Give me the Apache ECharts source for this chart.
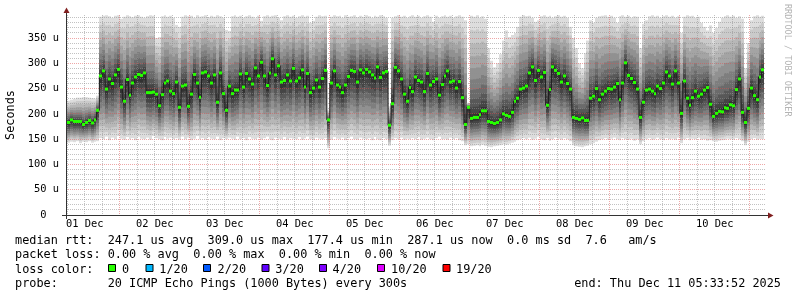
<!DOCTYPE html>
<html><head><meta charset="utf-8">
<script src="https://cdn.jsdelivr.net/npm/echarts@6/dist/echarts.min.js"></script>
<style>html,body{margin:0;padding:0;background:#fff}#c{width:797px;height:297px}</style>
</head><body><div id="c"></div>
<script>
// ---- data (hours counted from 01 Dec 00:00) ----
const startHour = 6;            // first hourly sample
const axisStartHour = 5.565;    // Dec 1 05:33:52
const axisEndHour = 245.565;    // Dec 11 05:33:52
const dayLabels = ['01 Dec','02 Dec','03 Dec','04 Dec','05 Dec','06 Dec','07 Dec','08 Dec','09 Dec','10 Dec'];
const dayLabelHours = [12,36,60,84,108,132,156,180,204,228];
const yTickValues = [0,50,100,150,200,250,300,350];
const yMax = 395.5;

// median rtt per hour (microseconds)
const median = [
183,188,185,185,185,179,183,187,182,188,
207,275,285,249,269,260,277,288,253,225,
268,237,261,273,278,276,281,242,242,243,
239,216,238,261,265,245,240,
263,213,255,257,215,239,278,261,233,281,
283,275,261,277,223,281,240,207,255,240,
247,247,279,253,280,269,259,291,275,302,
275,256,281,309,277,295,263,266,277,265,
290,265,271,287,253,280,242,251,267,253,
270,286,188,261,285,257,253,242,257,274,
286,284,263,287,281,288,283,277,271,293,
272,281,284,177.4,220,292,285,269,239,
225,252,244,273,266,263,244,280,257,264,
269,237,258,275,285,263,265,251,264,232,
179,213,191,193,193,198,206,206,185,183,
181,183,188,200,197,195,203,225,231,249,
251,255,281,293,266,286,273,282,217,248,
293,286,280,263,275,260,249,193,191,189,
192,187,187,231,235,250,228,239,245,250,
249,253,260,228,261,301,276,270,262,249,
193,223,247,249,245,240,255,250,261,283,
275,259,285,261,201,265,231,217,232,245,
235,239,247,252,219,195,201,205,204,212,
211,218,216,248,269,203,183,211,251,236,
228,273,287.1
];
// highest ping per hour
const hi = [
226,228,230,232,232,233,233,232,231,230,
236,392,394,395,393,390,394,395,388,392,
395,393,391,394,395,392,390,393,395,394,
350,352,393,395,392,394,390,
376,372,392,395,393,394,390,395,392,393,
395,391,394,392,395,393,390,366,364,393,
395,392,394,390,393,395,392,389,394,384,
393,395,392,394,395,390,385,393,395,392,
394,390,393,395,392,394,380,384,392,395,
393,394,208,392,395,393,394,390,395,392,
393,395,391,394,392,395,393,390,394,392,
395,393,390,215,390,393,395,392,394,
390,393,395,392,394,390,393,395,392,382,
394,390,393,395,392,394,390,393,395,392,
385,222,394,392,395,390,393,388,330,305,
292,300,318,345,365,352,356,360,372,392,
395,393,394,390,382,385,393,395,392,394,
390,393,395,392,394,390,372,350,330,300,
290,320,345,385,380,390,393,394,395,392,
394,390,380,393,395,392,394,390,393,392,
330,378,385,393,395,392,394,390,393,395,
392,394,390,393,360,392,395,393,394,390,
392,380,372,365,375,360,370,382,390,393,
395,392,394,390,393,388,290,340,385,393,
395,392,394
];
// lowest ping per hour
const lo = [
143,145,144,146,142,145,144,146,143,145,
146,152,150,155,148,153,150,156,151,149,
154,150,152,148,155,151,150,153,149,156,
152,150,148,154,151,153,150,
152,149,155,150,153,148,151,156,150,152,
149,154,151,150,155,148,152,150,153,151,
149,155,150,152,148,154,151,150,153,149,
152,155,150,148,153,151,150,154,149,152,
151,150,154,149,152,155,150,148,153,151,
150,152,132,149,154,151,150,153,148,152,
155,150,149,153,151,150,152,148,154,150,
148,152,150,137,148,152,150,153,149,
151,150,152,150,154,149,151,153,150,148,
152,155,150,151,149,153,150,152,148,146,
138,140,136,137,138,136,139,137,135,134,
136,137,138,140,139,141,143,145,148,150,
152,150,153,149,151,155,150,148,152,147,
150,153,151,149,152,150,146,138,136,135,
134,136,137,140,142,145,148,150,152,149,
151,153,150,148,152,150,149,151,147,150,
140,146,150,152,149,151,153,150,148,152,
150,151,149,153,142,150,152,148,151,150,
153,149,150,147,148,146,145,147,148,149,
151,150,149,152,150,146,138,145,150,152,
149,151,150
];
const lossLegend = [['0','#26ff00'],['1/20','#00b8ff'],['2/20','#0059ff'],['3/20','#5e00ff'],['4/20','#7e00ff'],['10/20','#dd00ff'],['19/20','#ff0000']];
const statLines = [
  'median rtt:  247.1 us avg  309.0 us max  177.4 us min  287.1 us now  0.0 ms sd  7.6   am/s',
  'packet loss: 0.00 % avg  0.00 % max  0.00 % min  0.00 % now',
  'loss color:',
  'probe:       20 ICMP Echo Pings (1000 Bytes) every 300s'
];
const endText = 'end: Thu Dec 11 05:33:52 2025';

// ---- styling ----
const MONO = '"DejaVu Sans Mono", "Liberation Mono", monospace';
const FS = 11.85;      // legend font
const FS_AXIS = 10.4;  // axis label font
const G = {left: 66, top: 15, width: 700, height: 200};
const GAMMA_UP = 1.4, GAMMA_LOW = 0.95;

const chart = echarts.init(document.getElementById('c'), null, {renderer: 'canvas'});

const seriesData = median.map((m, i) => [startHour + i, m]);

function smokeItem(params, api) {
  const i = params.dataIndex;
  const t = api.value(0);
  const m = median[i], h = hi[i], l = lo[i];
  const xa = Math.round(api.coord([t, 0])[0]);
  const xb = Math.round(api.coord([t + 1, 0])[0]);
  const children = [];
  for (let k = 1; k <= 10; k++) {
    const p = (11 - k) / 10;
    const top = m + (h - m) * Math.pow(p, GAMMA_UP);
    const bot = m - (m - l) * Math.pow(p, GAMMA_LOW);
    const yt = api.coord([t, top])[1];
    const yb = api.coord([t, bot])[1];
    const g = Math.round(190 / 10 * (10 - k)) + 50;
    children.push({type: 'rect', shape: {x: xa, y: yt, width: xb - xa, height: yb - yt},
      style: {fill: 'rgb(' + g + ',' + g + ',' + g + ')'}});
  }
  return {type: 'group', children};
}

function squareItem(params, api) {
  const t = api.value(0), m = api.value(1);
  const xa = Math.round(api.coord([t, 0])[0]);
  const xb = Math.round(api.coord([t + 1, 0])[0]);
  const y = api.coord([t, m])[1];
  return {type: 'rect', shape: {x: xa, y: y - 1.5, width: xb - xa, height: 3}, style: {fill: lossLegend[0][1]}};
}

// grid lines: [x, y, major, vertical]
const gridData = [];
for (let v = 10; v < yMax; v += 10) gridData.push([axisStartHour, v, v % 50 === 0 ? 1 : 0, 0]);
for (let h = 6; h < axisEndHour; h += 6) if (h > axisStartHour) gridData.push([h, 0, h % 24 === 0 ? 1 : 0, 1]);

function gridItem(params, api) {
  const cs = params.coordSys;
  const major = api.value(2), vert = api.value(3);
  const style = {stroke: major ? 'rgba(222,79,79,0.5)' : 'rgba(143,143,143,0.55)', lineWidth: 1, lineDash: [1, 1], fill: null};
  if (vert) {
    const x = Math.floor(api.coord([api.value(0), 0])[0]) + 0.5;
    return {type: 'line', shape: {x1: x, y1: cs.y, x2: x, y2: cs.y + cs.height}, style};
  }
  const y = Math.floor(api.coord([api.value(0), api.value(1)])[1]) + 0.5;
  return {type: 'line', shape: {x1: cs.x, y1: y, x2: cs.x + cs.width, y2: y}, style};
}

const graphic = [];
const ARROW = 'rgb(128,31,31)', AXIS = '#333';
// axis extensions and arrows
graphic.push({type: 'line', shape: {x1: 62, y1: 215.5, x2: 768, y2: 215.5}, style: {stroke: AXIS, lineWidth: 1}, z: 10});
graphic.push({type: 'line', shape: {x1: 66.5, y1: 219, x2: 66.5, y2: 13}, style: {stroke: AXIS, lineWidth: 1}, z: 10});
graphic.push({type: 'polygon', shape: {points: [[768, 212.5], [773.5, 215.5], [768, 218.5]]}, style: {fill: ARROW}, z: 11});
graphic.push({type: 'polygon', shape: {points: [[63.5, 13], [66.5, 7.5], [69.5, 13]]}, style: {fill: ARROW}, z: 11});
// statistics text
const lineY = [241.3, 255.4, 269.5, 283.6];
statLines.forEach((s, k) => {
  graphic.push({type: 'text', x: 15, y: lineY[k], style: {text: s, font: FS + 'px ' + MONO, fill: '#000', verticalAlign: 'middle', align: 'left'}});
});
graphic.push({type: 'text', x: 781, y: lineY[3], style: {text: endText, font: FS + 'px ' + MONO, fill: '#000', verticalAlign: 'middle', align: 'right'}});
// loss colour legend
const boxX = [108.5, 146, 203.5, 262, 319.5, 377.5, 443];
const boxTextX = [122, 159.3, 217.6, 275.3, 332.6, 391, 456];
lossLegend.forEach((d, k) => {
  graphic.push({type: 'rect', shape: {x: boxX[k], y: 264.5, width: 7, height: 7}, style: {fill: d[1], stroke: '#000', lineWidth: 1}});
  graphic.push({type: 'text', x: boxTextX[k], y: lineY[2], style: {text: d[0], font: FS + 'px ' + MONO, fill: '#000', verticalAlign: 'middle', align: 'left'}});
});
// watermark
graphic.push({type: 'text', x: 787.5, y: 4, rotation: -Math.PI / 2,
  style: {text: 'RRDTOOL / TOBI OETIKER', font: '8.5px ' + MONO, fill: '#b4b4b4', verticalAlign: 'middle', align: 'left'}});

const option = {
  animation: false,
  backgroundColor: '#fff',
  grid: Object.assign({outerBoundsMode: 'none'}, G),
  xAxis: {
    type: 'value', min: axisStartHour, max: axisEndHour, z: 5,
    axisLine: {show: true, lineStyle: {color: AXIS, width: 1}},
    axisTick: {show: false},
    splitLine: {show: false},
    axisLabel: {
      customValues: dayLabelHours,
      formatter: v => dayLabels[dayLabelHours.indexOf(Math.round(v))] || '',
      fontFamily: MONO, fontSize: FS_AXIS, color: '#000', margin: 4
    }
  },
  yAxis: {
    type: 'value', min: 0, max: yMax, interval: 50, z: 5,
    axisLine: {show: true, lineStyle: {color: AXIS, width: 1}},
    axisTick: {show: false},
    splitLine: {show: false},
    axisLabel: {
      formatter: v => (v === 0 ? '0  ' : v + ' u'),
      showMaxLabel: false,
      fontFamily: MONO, fontSize: FS_AXIS, color: '#000', margin: 7
    },
    name: 'Seconds', nameLocation: 'middle', nameGap: 49, nameRotate: 90,
    nameTextStyle: {fontFamily: MONO, fontSize: FS, color: '#000'}
  },
  series: [
    {type: 'custom', name: 'smoke', z: 1, silent: true, data: seriesData, renderItem: smokeItem, clip: true},
    {type: 'custom', name: 'grid', z: 2, silent: true, data: gridData, renderItem: gridItem, clip: true},
    {type: 'line', name: 'median step', z: 3, silent: true, step: 'middle', showSymbol: false, symbol: 'none',
      data: median.map((m, i) => [startHour + i + 0.5, m]), lineStyle: {color: '#202020', width: 1}},
    {type: 'custom', name: 'median', z: 4, silent: true, data: seriesData, renderItem: squareItem, clip: true}
  ],
  graphic
};
chart.setOption(option);
</script></body></html>
